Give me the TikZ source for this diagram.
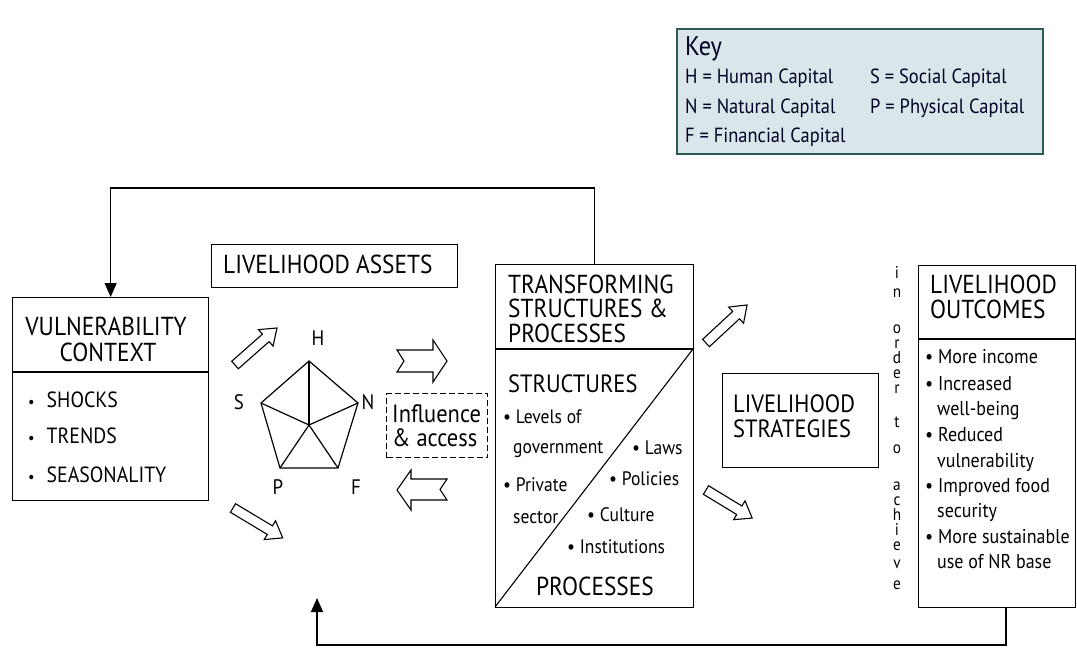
\documentclass[tikz,border=0pt]{standalone}
\usepackage{fontspec}
\setmainfont{PT Sans}[FakeStretch=0.9]
\usetikzlibrary{arrows.meta}
\definecolor{keyfill}{RGB}{218,230,233}
\definecolor{keyedge}{RGB}{45,90,85}
\newcommand\fsz[1]{\fontsize{#1pt}{#1pt}\selectfont}
\newcommand\hollowarr[4]{%
  \begin{scope}[shift={(#1,#2)},rotate=#3]
    \draw[arrline] (0,-5) -- ({#4-15},-5) -- ({#4-15},-11) -- (#4,0) -- ({#4-15},11) -- ({#4-15},5) -- (0,5) -- cycle;
  \end{scope}}
\begin{document}
\begin{tikzpicture}[x=1pt,y=-1pt,
  box/.style={draw,line width=1.3pt,inner sep=0pt,anchor=north west},
  txt/.style={inner sep=0pt,anchor=base west},
  ctxt/.style={inner sep=0pt,anchor=base},
  title/.style={txt,font=\fsz{26}},
  small/.style={txt,font=\fsz{19.5}},
  outb/.style={txt,font=\fsz{20}},
  vlet/.style={ctxt,font=\fsz{17}},
  arrline/.style={line width=1.1pt,line join=miter},
  fb/.style={line width=1.3pt,-{Triangle[length=14pt,width=12pt]}},
  keytxt/.style={txt,font=\fsz{20.5},text=black!85!blue}]
\useasboundingbox (0,0) rectangle (1077,662);
\fill[white] (0,0) rectangle (1077,662);

% Key
\node[box,draw=keyedge,fill=keyfill,line width=1.6pt,minimum width=366pt,minimum height=125pt] (key) at (676,28) {};
\node[txt,font=\fsz{27},text=black!85!blue] (keyt) at (685,55) {Key};
\node[keytxt] (k1) at (685,83) {H = Human Capital};
\node[keytxt] (k2) at (685,113) {N = Natural Capital};
\node[keytxt] (k3) at (685,142) {F = Financial Capital};
\node[keytxt] (k4) at (870,83) {S = Social Capital};
\node[keytxt] (k5) at (870,113) {P = Physical Capital};

% Vulnerability context
\node[box,minimum width=196pt,minimum height=203pt] (vul) at (12,297) {};
\draw[line width=1.3pt] (12,372) -- (208,372);
\node[ctxt,font=\fsz{26}] (vt1) at (106,335) {VULNERABILITY};
\node[ctxt,font=\fsz{26}] (vt2) at (108,361) {CONTEXT};
\node[txt,font=\fsz{22}] (vb1) at (28,407) {{\fsz{16}•}\hspace{12pt}SHOCKS};
\node[txt,font=\fsz{22}] (vb2) at (28,443) {{\fsz{16}•}\hspace{12pt}TRENDS};
\node[txt,font=\fsz{22}] (vb3) at (28,482) {{\fsz{16}•}\hspace{12pt}SEASONALITY};

% Livelihood assets
\node[box,minimum width=246pt,minimum height=43pt] (assets) at (211,244) {};
\node[title] (assetst) at (223,273) {LIVELIHOOD ASSETS};

% Pentagon
\coordinate (pH) at (309,361);
\coordinate (pN) at (358,403);
\coordinate (pF) at (338,468);
\coordinate (pP) at (280,468);
\coordinate (pS) at (261,403);
\coordinate (pC) at (309,425);
\draw[line width=1.2pt,line join=miter] (pH) -- (pN) -- (pF) -- (pP) -- (pS) -- cycle;
\foreach \v in {pH,pN,pF,pP,pS} \draw[line width=1.2pt] (pC) -- (\v);
\node[ctxt,font=\fsz{21}] (lH) at (318,345) {H};
\node[ctxt,font=\fsz{21}] (lS) at (239,409) {S};
\node[ctxt,font=\fsz{21}] (lN) at (368,409) {N};
\node[ctxt,font=\fsz{21}] (lP) at (278,494) {P};
\node[ctxt,font=\fsz{21}] (lF) at (356,494) {F};

% hollow arrows near assets
\hollowarr{235}{365}{41.4}{56}
\hollowarr{233}{508}{-31}{58}

% notched arrows
\draw[arrline] (397,350) -- (433,350) -- (433,340) -- (447,361) -- (433,382) -- (433,372) -- (397,372) -- (404,361) -- cycle;
\draw[arrline] (447,479) -- (411,479) -- (411,470) -- (397,490) -- (411,510) -- (411,500) -- (447,500) -- (440,489.5) -- cycle;

% Influence & access
\node[box,dashed,line width=1.4pt,dash pattern=on 6pt off 3pt,minimum width=101pt,minimum height=64pt] (infl) at (386,393) {};
\node[txt,font=\fsz{25}] (inf1) at (392,422) {Influence};
\node[txt,font=\fsz{25}] (inf2) at (392,446) {\&\ access};

% Transforming structures
\node[box,minimum width=198pt,minimum height=343pt] (trans) at (495,264) {};
\draw[line width=1.3pt] (495,349) -- (693,349);
\draw[line width=1.1pt] (495,607) -- (693,349);
\node[title] (tt1) at (508,293) {TRANSFORMING};
\node[title] (tt2) at (508,317) {STRUCTURES \&};
\node[title] (tt3) at (508,342) {PROCESSES};
\node[txt,font=\fsz{25}] (str) at (508,392) {STRUCTURES};
\node[small] (s1) at (503,423) {• Levels of};
\node[small] (s2) at (513,453) {government};
\node[small] (s3) at (503,491) {• Private};
\node[small] (s4) at (513,523) {sector};
\node[small] (p1) at (632,454) {• Laws};
\node[small] (p2) at (609,485) {• Policies};
\node[small] (p3) at (587,521) {• Culture};
\node[small] (p4) at (567,553) {• Institutions};
\node[ctxt,font=\fsz{26}] (proc) at (595,595) {PROCESSES};

% arrows to strategies
\hollowarr{706}{343}{42.8}{56}
\hollowarr{706}{490}{-31.3}{54}

% Livelihood strategies
\node[box,minimum width=156pt,minimum height=94pt] (strat) at (722,373) {};
\node[txt,font=\fsz{25}] (st1) at (733,412) {LIVELIHOOD};
\node[txt,font=\fsz{25}] (st2) at (733,437) {STRATEGIES};

% vertical text
\node[vlet] (v1) at (897,278) {i};
\node[vlet] (v2) at (897,297) {n};
\node[vlet] (v3) at (897,333) {o};
\node[vlet] (v4) at (897,348) {r};
\node[vlet] (v5) at (897,363) {d};
\node[vlet] (v6) at (897,378) {e};
\node[vlet] (v7) at (897,393) {r};
\node[vlet] (v8) at (897,427) {t};
\node[vlet] (v9) at (897,453) {o};
\node[vlet] (v10) at (897,490) {a};
\node[vlet] (v11) at (897,505) {c};
\node[vlet] (v12) at (897,520) {h};
\node[vlet] (v13) at (897,535) {i};
\node[vlet] (v14) at (897,550) {e};
\node[vlet] (v15) at (897,568) {v};
\node[vlet] (v16) at (897,589) {e};

% Livelihood outcomes
\node[box,minimum width=157pt,minimum height=342pt] (out) at (918,265) {};
\draw[line width=1.3pt] (918,339) -- (1075,339);
\node[title] (ot1) at (930,293) {LIVELIHOOD};
\node[title] (ot2) at (930,318) {OUTCOMES};
\node[outb] (o1) at (925,363) {• More income};
\node[outb] (o2) at (925,390) {• Increased};
\node[outb] (o3) at (937,415) {well-being};
\node[outb] (o4) at (925,441) {• Reduced};
\node[outb] (o5) at (937,467) {vulnerability};
\node[outb] (o6) at (925,492) {• Improved food};
\node[outb] (o7) at (937,517) {security};
\node[outb] (o8) at (925,543) {• More sustainable};
\node[outb] (o9) at (937,568) {use of NR base};

% feedback connectors
\draw[fb] (trans.north) -- ++(0,-76) -| (vul.north);
\coordinate (ob) at (1006,607);
\coordinate (fbend) at (317,598);
\draw[fb] (ob) -- (1006,645) -| (fbend);
\end{tikzpicture}
\end{document}
